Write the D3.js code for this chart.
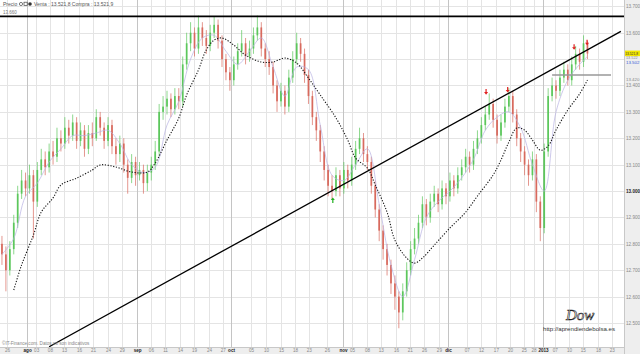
<!DOCTYPE html>
<html><head><meta charset="utf-8">
<script src="https://cdn.jsdelivr.net/npm/d3@7"></script>
<style>
body{margin:0;background:#fff;}
svg{display:block;font-family:"Liberation Sans",Arial,sans-serif;}
</style>
</head><body><svg id="c" width="640" height="354"></svg>
<script>
// ---------- DATA ----------
const firstOpen = 12800;
const closes = [12760,12700,12780,12880,12990,13040,13010,13060,12960,13080,
13120,13090,13150,13130,13200,13180,13240,13210,13260,13190,
13230,13160,13220,13200,13280,13240,13190,13250,13170,13140,
13180,13100,13050,13110,13060,13080,13030,13070,13100,13150,
13300,13320,13350,13310,13360,13340,13480,13560,13600,13540,
13620,13580,13550,13600,13630,13570,13500,13450,13420,13480,
13530,13560,13510,13540,13590,13620,13540,13500,13470,13400,
13340,13380,13320,13430,13500,13560,13520,13440,13360,13280,
13230,13150,13080,13020,13000,13060,13010,13080,13040,13100,
13160,13200,13140,13110,13020,12930,12850,12780,12720,12650,
12600,12540,12620,12700,12780,12820,12880,12950,12900,12960,
12990,12950,13010,12980,13040,13010,13060,13090,13130,13100,
13160,13200,13250,13290,13330,13270,13210,13260,13320,13360,
13290,13200,13150,13100,13060,13120,12960,12860,13150,13360,
13400,13380,13430,13460,13420,13480,13520,13490,13560,13521];
const highs = [12830,12790,12810,12910,13020,13080,13070,13100,13080,13110,
13160,13150,13180,13190,13240,13230,13280,13270,13290,13280,
13260,13250,13250,13260,13310,13300,13260,13280,13270,13200,
13210,13200,13120,13140,13130,13110,13100,13100,13130,13190,
13330,13360,13380,13370,13390,13390,13510,13600,13640,13620,
13665,13640,13610,13630,13660,13650,13590,13520,13470,13510,
13560,13610,13580,13570,13620,13665,13640,13560,13530,13490,
13420,13410,13400,13460,13530,13600,13580,13540,13460,13380,
13300,13250,13170,13100,13060,13090,13080,13110,13100,13130,
13190,13240,13220,13170,13130,13040,12950,12870,12800,12740,
12680,12620,12650,12730,12810,12860,12910,12980,12970,12990,
13020,13010,13040,13030,13070,13060,13090,13120,13160,13150,
13190,13230,13280,13320,13370,13350,13290,13290,13350,13390,
13380,13310,13220,13170,13120,13150,13140,12980,13180,13390,
13430,13420,13460,13490,13480,13510,13550,13540,13590,13570];
const lows = [12720,12620,12680,12760,12860,12970,12980,12990,12820,12940,
13060,13060,13070,13100,13110,13150,13160,13180,13190,13160,
13170,13130,13140,13170,13190,13210,13160,13170,13140,13100,
13110,13070,12990,13030,13020,13040,12990,13000,13040,13080,
13130,13270,13290,13280,13290,13310,13320,13460,13530,13510,
13520,13550,13520,13530,13580,13540,13470,13420,13380,13400,
13460,13510,13480,13490,13520,13570,13510,13470,13440,13370,
13300,13320,13290,13300,13410,13480,13490,13410,13330,13250,
13190,13110,13040,12980,12970,12980,12980,12990,13010,13020,
13080,13140,13110,13080,12990,12900,12810,12740,12680,12610,
12550,12480,12510,12600,12680,12760,12800,12860,12870,12880,
12940,12920,12930,12950,12960,12980,12990,13040,13070,13070,
13080,13140,13180,13230,13270,13240,13180,13190,13240,13300,
13260,13170,13110,13060,13020,13040,12920,12810,12840,13130,
13340,13350,13360,13410,13400,13400,13460,13460,13470,13500];

// slow moving average (black dotted), read at sample candles
const maIdx = [3,5,8,10,13,15,19,23,25,29,33,37,39,42,45,47,50,52,54,56,59,62,66,69,72,75,78,81,85,88,90,93,95,98,100,103,105,107,110,114,118,121,125,127,129,131,133,135,137,139,141,144,147,149];
const maVals = [12625,12720,12833,12920,12974,13023,13049,13080,13099,13091,13072,13072,13106,13193,13277,13364,13459,13535,13572,13580,13553,13515,13489,13489,13504,13485,13428,13364,13277,13193,13125,13087,13023,12920,12814,12746,12727,12746,12795,12860,12920,12981,13061,13118,13186,13239,13231,13193,13155,13171,13231,13307,13368,13421];

// fast moving average (lavender), read at sample candles
const fastIdx = [0,3,6,9,12,15,18,21,24,27,30,33,36,39,42,45,48,51,54,57,60,63,66,69,72,75,78,81,84,87,90,93,96,99,102,105,108,111,114,117,120,123,126,129,132,135,138,141,144,147,149];
const fastVals = [12760,12820,12980,13030,13110,13160,13210,13210,13220,13230,13180,13100,13070,13090,13250,13340,13500,13580,13590,13530,13480,13530,13580,13470,13360,13470,13460,13250,13060,13040,13100,13160,12950,12720,12600,12740,12900,12960,13000,13050,13120,13230,13280,13300,13240,13100,13000,13300,13420,13480,13510];

const yTicks = [12500,12600,12700,12800,12900,13000,13100,13200,13300,13400,13500,13600,13700];
const xTickLabels = ["26","ago","03","08","13","16","21","24","29","sep","06","11","14","19","24","27","oct","05","10","15","18","23","26","nov","05","08","13","16","21","26","29","dic","07","12","17","20","25","28","2013","07","10","15","18","23"];
const xTickIdx = [1.3,6.4,8.7,12.2,15.8,19.6,23.2,27,30.5,34.4,37.9,41.5,45.3,48.9,52.7,56.2,58.3,63.4,67.2,71,74.6,78.1,82.7,86.8,89.1,92.9,96.4,100.3,103.8,107.4,111.2,113.5,118.3,121.9,125.7,129.3,132.8,135.3,137.7,140.7,144.3,147.8,151.7,155.2];
const monthLabels = ["ago","sep","oct","nov","dic","2013"];

const resistanceLevel = 13662;
const supportLevel = {from:140, to:155, value:13440};
const trendLine = [{i:12, p:12410},{i:157.5, p:13605}];
const sellSignals = [{i:123.2, p:13375},{i:128.7, p:13383},{i:145.6, p:13545},{i:148.9, p:13562}];
const buySignals = [{i:84.2, p:12966}];
const lastPrice = 13521.8;

// ---------- LAYOUT ----------
const W = 640, H = 354, PR = 624, PB = 347;
const svg = d3.select("#c");
const x = d3.scaleLinear().domain([-0.5, 158.3]).range([0, PR]);
const y = d3.scaleLinear().domain([12409, 13724]).range([PB, 0]);
const fmt = v => d3.format(",")(v).replace(/,/g, ".");

const defs = svg.append("defs");
defs.append("clipPath").attr("id","clip").append("rect").attr("x",0).attr("y",0).attr("width",PR).attr("height",PB);

svg.append("rect").attr("width",W).attr("height",H).attr("fill","#fff");

// grid
const grid = svg.append("g");
grid.selectAll("line.h").data(yTicks).join("line")
  .attr("x1",0).attr("x2",PR).attr("y1",d=>Math.round(y(d))+0.5).attr("y2",d=>Math.round(y(d))+0.5)
  .attr("stroke","#e4e4e4").attr("stroke-width",1);
grid.selectAll("line.v").data(xTickIdx).join("line")
  .attr("x1",d=>Math.round(x(d))+0.5).attr("x2",d=>Math.round(x(d))+0.5).attr("y1",0).attr("y2",PB)
  .attr("stroke",(d,i)=>monthLabels.includes(xTickLabels[i])?"#c4c4c4":"#e4e4e4").attr("stroke-width",1);

const plot = svg.append("g").attr("clip-path","url(#clip)");

// candles
const candles = closes.map((c,i)=>({i, o: i===0?firstOpen:closes[i-1], c, h: highs[i], l: lows[i]}));
const up = "#5cc75c", dn = "#d86a5e";
plot.append("g").selectAll("line").data(candles).join("line")
  .attr("x1",d=>x(d.i)).attr("x2",d=>x(d.i))
  .attr("y1",d=>y(d.h)).attr("y2",d=>y(d.l))
  .attr("stroke",d=>d.c>=d.o?up:dn).attr("stroke-width",0.7);
plot.append("g").selectAll("rect").data(candles).join("rect")
  .attr("x",d=>x(d.i)-0.85).attr("width",1.7)
  .attr("y",d=>y(Math.max(d.o,d.c)))
  .attr("height",d=>Math.max(1, Math.abs(y(d.o)-y(d.c))))
  .attr("fill",d=>d.c>=d.o?up:dn);

// fast MA
plot.append("path")
  .datum(fastIdx.map((d,k)=>[d,fastVals[k]]))
  .attr("d", d3.line().x(d=>x(d[0])).y(d=>y(d[1])).curve(d3.curveCatmullRom))
  .attr("fill","none").attr("stroke","#b8b2e2").attr("stroke-width",0.7);

// slow MA dotted
plot.append("path")
  .datum(maIdx.map((d,k)=>[d,maVals[k]]))
  .attr("d", d3.line().x(d=>x(d[0])).y(d=>y(d[1])).curve(d3.curveCatmullRom))
  .attr("fill","none").attr("stroke","#111").attr("stroke-width",1.1).attr("stroke-dasharray","1.2,1.6");

// resistance
plot.append("line").attr("x1",0).attr("x2",PR)
  .attr("y1",y(resistanceLevel)).attr("y2",y(resistanceLevel))
  .attr("stroke","#000").attr("stroke-width",1.6);

// trend line
plot.append("line")
  .attr("x1",x(trendLine[0].i)).attr("y1",y(trendLine[0].p))
  .attr("x2",x(trendLine[1].i)).attr("y2",y(trendLine[1].p))
  .attr("stroke","#000").attr("stroke-width",1.3);

// support
plot.append("line")
  .attr("x1",x(supportLevel.from)).attr("x2",x(supportLevel.to))
  .attr("y1",y(supportLevel.value)).attr("y2",y(supportLevel.value))
  .attr("stroke","#999").attr("stroke-width",1.4);

// arrows
function arrow(g, cx, cy, dir, color){
  const s = dir; // -1 up, 1 down
  g.append("path")
   .attr("d", `M${cx-0.6},${cy-3*s} L${cx+0.6},${cy-3*s} L${cx+0.6},${cy} L${cx+2},${cy} L${cx},${cy+2.6*s} L${cx-2},${cy} L${cx-0.6},${cy} Z`)
   .attr("fill", color);
}
const ag = plot.append("g");
sellSignals.forEach(d=>arrow(ag, x(d.i), y(d.p), 1, "#e02020"));
buySignals.forEach(d=>arrow(ag, x(d.i), y(d.p), -1, "#20b020"));

// header
svg.append("text").attr("x",3).attr("y",6).attr("font-size",5).attr("fill","#555").text("Precio");
svg.append("circle").attr("cx",21).attr("cy",4).attr("r",1.6).attr("fill","none").attr("stroke","#444").attr("stroke-width",0.7);
svg.append("rect").attr("x",24).attr("y",2.2).attr("width",3.2).attr("height",3.4).attr("fill","none").attr("stroke","#444").attr("stroke-width",0.7);
svg.append("circle").attr("cx",30).attr("cy",4).attr("r",1.8).attr("fill","#333");
svg.append("text").attr("x",34).attr("y",6).attr("font-size",5).attr("fill","#555").text("Venta : 13.521,8 Compra : 13.521,9");
svg.append("text").attr("x",3).attr("y",13.5).attr("font-size",4.5).attr("fill","#777").text(fmt(13660));

// footer text
svg.append("text").attr("x",2).attr("y",345).attr("font-size",4.6).attr("fill","#888")
  .text("©IT-Finance.com. Datos no son indicativos");

// signature
svg.append("text").attr("x",566).attr("y",320).attr("font-size",15).attr("font-style","italic")
  .attr("font-family","'Liberation Serif',serif").attr("fill","none").attr("stroke","#222").attr("stroke-width",0.6).text("Dow");
svg.append("text").attr("x",543).attr("y",331).attr("font-size",6.2).attr("fill","#333")
  .attr("textLength",72).attr("lengthAdjust","spacingAndGlyphs").text("http://aprendiendebolsa.es");

// right axis panel
svg.append("rect").attr("x",PR).attr("y",0).attr("width",W-PR).attr("height",H).attr("fill","#eeeeee");
svg.append("line").attr("x1",PR+0.5).attr("x2",PR+0.5).attr("y1",0).attr("y2",H).attr("stroke","#c8c8c8");
const ra = svg.append("g").attr("transform",`translate(${PR+2},0)`)
  .call(d3.axisRight(y).tickValues(yTicks.filter(v=>v!==13500)).tickSize(0).tickPadding(0).tickFormat(fmt));
ra.select(".domain").remove();
ra.selectAll("text").attr("font-size",4.6).attr("fill",d=>d===13000?"#222":"#888")
  .attr("font-weight",d=>d===13000?"bold":"normal").attr("font-family","'Liberation Sans',Arial,sans-serif");

// price labels
svg.append("rect").attr("x",PR+1).attr("y",y(lastPrice)-2.8).attr("width",W-PR-1).attr("height",5.6).attr("fill","#f2e600");
svg.append("text").attr("x",PR+1.2).attr("y",y(lastPrice)+1.2).attr("font-size",3.3).attr("fill","#333").text("13.521,8");
svg.append("text").attr("x",PR+2).attr("y",y(13505)+1.2).attr("font-size",3.8).attr("fill","#888").text("13.522");
svg.append("text").attr("x",PR+2).attr("y",y(13488)+1.7).attr("font-size",4.4).attr("fill","#3a5ad8").text("13.502");
svg.append("text").attr("x",PR+2).attr("y",y(13422)+1.5).attr("font-size",4.4).attr("fill","#888").text("13.420");

// bottom axis
svg.append("rect").attr("x",0).attr("y",PB).attr("width",PR).attr("height",H-PB).attr("fill","#eeeeee");
svg.append("line").attr("x1",0).attr("x2",PR).attr("y1",PB+0.5).attr("y2",PB+0.5).attr("stroke","#c8c8c8");
const ba = svg.append("g").attr("transform",`translate(0,${PB})`)
  .call(d3.axisBottom(x).tickValues(xTickIdx).tickSize(0).tickPadding(1.5).tickFormat((d,i)=>xTickLabels[i]));
ba.select(".domain").remove();
ba.selectAll("text").attr("font-size",4.6).attr("fill",(d,i)=>monthLabels.includes(xTickLabels[i])?"#222":"#888")
  .attr("font-weight",(d,i)=>monthLabels.includes(xTickLabels[i])?"bold":"normal")
  .attr("font-family","'Liberation Sans',Arial,sans-serif");
</script>
</body></html>
